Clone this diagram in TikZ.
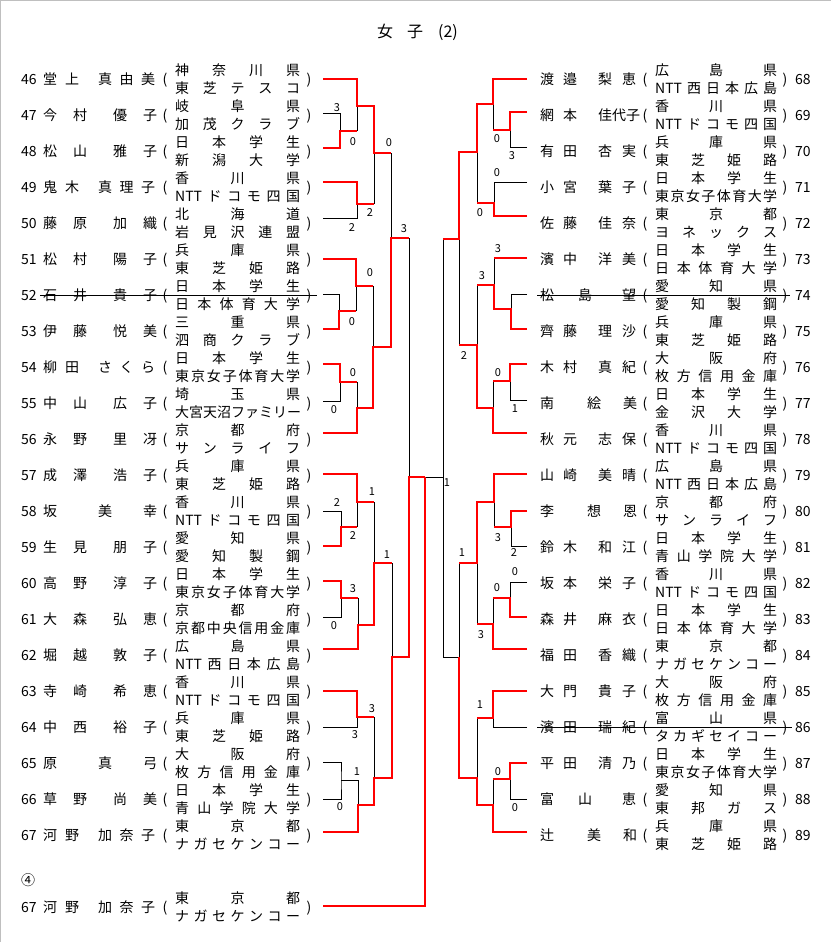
\documentclass[tikz,border=0pt]{standalone}
\usepackage{fontspec}
\setmainfont{Noto Sans CJK JP}
\usepackage{tikz}
\definecolor{myred}{HTML}{FF0000}
\tikzset{
  txt/.style={inner sep=0pt, font=\fontsize{14}{16}\selectfont, text height=12.3pt, text depth=1.7pt},
  sc/.style={inner sep=0pt, font=\fontsize{11}{12}\selectfont},
  won/.style={draw=myred, line width=2pt},
  lost/.style={draw=black, line width=0.9pt},
  frm/.style={draw=black!25, line width=1pt}
}
% spread the characters of a word over its box
\def\spreadit#1{\expandafter\spreadA#1\relax}
\def\spreadA#1{#1\spreadB}
\def\spreadB#1{\ifx\relax#1\else\hfill#1\expandafter\spreadB\fi}
% names, left column
\newcommand\nmA[2]{\makebox[44pt][l]{\spreadit{#1}}\hspace{26pt}\makebox[44pt][l]{\spreadit{#2}}}
\newcommand\nmB[2]{\makebox[36pt][l]{\spreadit{#1}}\hspace{19pt}\makebox[57pt][l]{\spreadit{#2}}}
\newcommand\nmC[2]{\makebox[14pt][l]{#1}\hspace{41pt}\makebox[59pt][l]{\spreadit{#2}}}
% names, right column
\newcommand\nmRA[2]{\makebox[37pt][l]{\spreadit{#1}}\hspace{21pt}\makebox[38pt][l]{\spreadit{#2}}}
\newcommand\nmRB[2]{\makebox[37pt][l]{\spreadit{#1}}\hspace{21pt}\makebox[42pt][l]{\spreadit{#2}}}
\newcommand\nmRC[2]{\makebox[14pt][l]{#1}\hspace{33pt}\makebox[50pt][l]{\spreadit{#2}}}
\newcommand\nmRE[2]{\makebox[52pt][l]{\spreadit{#1}}\hspace{30pt}\makebox[14pt][l]{#2}}

\begin{document}
\begin{tikzpicture}[x=1pt,y=-1pt]
\useasboundingbox (0,0) rectangle (831,942);
\draw[frm] (0.5,942) -- (0.5,0.5) -- (831,0.5);

\node[inner sep=0pt, font=\fontsize{16}{18}\selectfont, anchor=west] (ttl) at (377,32) {女\hspace{14pt}子\hspace{15pt}(2)};

% left column
\foreach \nr/\ly/\nm/\af/\ag [count=\row from 0] in {
 46/79/{\nmB{堂上}{真由美}}/{神奈川県}/{東芝テスコ},
 47/113/{\nmA{今村}{優子}}/{岐阜県}/{加茂クラブ},
 48/148/{\nmA{松山}{雅子}}/{日本学生}/{新潟大学},
 49/182/{\nmB{鬼木}{真理子}}/{香川県}/{{NTT}ドコモ四国},
 50/218/{\nmA{藤原}{加織}}/{北海道}/{岩見沢連盟},
 51/259/{\nmA{松村}{陽子}}/{兵庫県}/{東芝姫路},
 52/294/{\nmA{石井}{貴子}}/{日本学生}/{日本体育大学},
 53/329/{\nmA{伊藤}{悦美}}/{三重県}/{泗商クラブ},
 54/364/{\nmB{柳田}{さくら}}/{日本学生}/{東京女子体育大学},
 55/401/{\nmA{中山}{広子}}/{埼玉県}/{大宮天沼ファミリー},
 56/433/{\nmA{永野}{里冴}}/{京都府}/{サンライフ},
 57/474/{\nmA{成澤}{浩子}}/{兵庫県}/{東芝姫路},
 58/511/{\nmC{坂}{美幸}}/{香川県}/{{NTT}ドコモ四国},
 59/546/{\nmA{生見}{朋子}}/{愛知県}/{愛知製鋼},
 60/581/{\nmA{高野}{淳子}}/{日本学生}/{東京女子体育大学},
 61/617/{\nmA{大森}{弘恵}}/{京都府}/{京都中央信用金庫},
 62/649/{\nmA{堀越}{敦子}}/{広島県}/{{NTT}西日本広島},
 63/691/{\nmA{寺崎}{希恵}}/{香川県}/{{NTT}ドコモ四国},
 64/727/{\nmA{中西}{裕子}}/{兵庫県}/{東芝姫路},
 65/762/{\nmC{原}{真弓}}/{大阪府}/{枚方信用金庫},
 66/799/{\nmA{草野}{尚美}}/{日本学生}/{青山学院大学},
 67/832/{\nmB{河野}{加奈子}}/{東京都}/{ナガセケンコー}}{
  \pgfmathsetmacro\yy{79+36*\row}
  \node[txt,anchor=west] (n\nr) at (21,\yy) {\nr};
  \node[txt,anchor=west] (m\nr) at (43,\yy) {\nm};
  \node[txt] (p\nr) at (165,\yy) {(};
  \node[txt,anchor=west] (a\nr) at (175,\yy-9) {\makebox[125pt][l]{\spreadit{\af}}};
  \node[txt,anchor=west] (b\nr) at (175,\yy+9) {\makebox[125pt][l]{\spreadit{\ag}}};
  \node[txt] (q\nr) at (309,\yy) {)};
  \coordinate (L\nr) at (323,\ly);
}
\node[txt,anchor=west] (four) at (21,880) {④};
\node[txt,anchor=west] (n67b) at (21,907) {67};
\node[txt,anchor=west] (m67b) at (43,907) {\nmB{河野}{加奈子}};
\node[txt] (p67b) at (165,907) {(};
\node[txt,anchor=west] (a67b) at (175,898) {\makebox[125pt][l]{\spreadit{東京都}}};
\node[txt,anchor=west] (b67b) at (175,916) {\makebox[125pt][l]{\spreadit{ナガセケンコー}}};
\node[txt] (q67b) at (309,907) {)};
\coordinate (L67b) at (323,906);

% right column
\foreach \nr/\ly/\nm/\af/\ag [count=\row from 0] in {
 68/79/{\nmRA{渡邉}{梨恵}}/{広島県}/{{NTT}西日本広島},
 69/112/{\nmRB{網本}{佳代子}}/{香川県}/{{NTT}ドコモ四国},
 70/147/{\nmRA{有田}{杏実}}/{兵庫県}/{東芝姫路},
 71/182/{\nmRA{小宮}{葉子}}/{日本学生}/{東京女子体育大学},
 72/216/{\nmRA{佐藤}{佳奈}}/{東京都}/{ヨネックス},
 73/258/{\nmRA{濱中}{洋美}}/{日本学生}/{日本体育大学},
 74/294/{\nmRE{松島}{望}}/{愛知県}/{愛知製鋼},
 75/329/{\nmRA{齊藤}{理沙}}/{兵庫県}/{東芝姫路},
 76/364/{\nmRA{木村}{真紀}}/{大阪府}/{枚方信用金庫},
 77/400/{\nmRC{南}{絵美}}/{日本学生}/{金沢大学},
 78/433/{\nmRA{秋元}{志保}}/{香川県}/{{NTT}ドコモ四国},
 79/474/{\nmRA{山崎}{美晴}}/{広島県}/{{NTT}西日本広島},
 80/511/{\nmRC{李}{想恩}}/{京都府}/{サンライフ},
 81/546/{\nmRA{鈴木}{和江}}/{日本学生}/{青山学院大学},
 82/582/{\nmRA{坂本}{栄子}}/{香川県}/{{NTT}ドコモ四国},
 83/617/{\nmRA{森井}{麻衣}}/{日本学生}/{日本体育大学},
 84/649/{\nmRA{福田}{香織}}/{東京都}/{ナガセケンコー},
 85/691/{\nmRA{大門}{貴子}}/{大阪府}/{枚方信用金庫},
 86/727/{\nmRA{濱田}{瑞紀}}/{富山県}/{タカギセイコー},
 87/763/{\nmRA{平田}{清乃}}/{日本学生}/{東京女子体育大学},
 88/799/{\nmRE{富山}{恵}}/{愛知県}/{東邦ガス},
 89/832/{\nmRC{辻}{美和}}/{兵庫県}/{東芝姫路}}{
  \pgfmathsetmacro\yy{79+36*\row}
  \node[txt,anchor=west] (m\nr) at (540,\yy) {\nm};
  \node[txt] (p\nr) at (645,\yy) {(};
  \node[txt,anchor=west] (a\nr) at (655,\yy-9) {\makebox[122pt][l]{\spreadit{\af}}};
  \node[txt,anchor=west] (b\nr) at (655,\yy+9) {\makebox[122pt][l]{\spreadit{\ag}}};
  \node[txt] (q\nr) at (785,\yy) {)};
  \node[txt,anchor=west] (n\nr) at (795,\yy) {\nr};
  \coordinate (R\nr) at (527,\ly);
}

% struck entries
\draw[lost] ([xshift=-3pt]m52.west) -- ([xshift=5pt]q52.east);
\draw[lost] ([xshift=-3pt]m74.west) -- ([xshift=-5pt]n74.west);
\draw[lost] ([xshift=-3pt]m86.west) -- ([xshift=-3pt]n86.west);

% left bracket
\draw[lost] (L47) -| (340,131);
\draw[lost] (357,131) -- (357,106);
\draw[lost] (L50) -| (357,204);
\draw[lost] (374,204) -- (374,153);
\draw[lost] (391,153) -- (391,238);
\draw[lost] (L52) -| (339,311);
\draw[lost] (356,311) -- (356,286);
\draw[lost] (373,286) -- (373,347);
\draw[lost] (L55) -| (340,382);
\draw[lost] (357,382) -- (357,408);
\draw[lost] (L58) -| (341,527);
\draw[lost] (357,527) -- (357,502);
\draw[lost] (374,502) -- (374,563);
\draw[lost] (L61) -| (341,598);
\draw[lost] (358,598) -- (358,625);
\draw[lost] (392,563) -- (392,657);
\draw[lost] (L64) -| (357,717);
\draw[lost] (374,717) -- (374,778);
\draw[lost] (L65) -| (341,780) |- (L66);
\draw[lost] (341,780) -| (358,805);
\draw[lost] (409,238) -- (409,477);
\draw[lost] (425,477) -- (443,477);

\draw[won] (L46) -| (357,106) -| (374,153) -- (391,153);
\draw[won] (L48) -| (340,131) -- (357,131);
\draw[won] (L49) -| (357,204) -- (374,204);
\draw[won] (L51) -| (356,286) -- (373,286);
\draw[won] (L53) -| (339,311) -- (356,311);
\draw[won] (L54) -| (340,382) -- (357,382);
\draw[won] (L56) -| (357,408) -| (373,347) -| (391,238) -- (409,238);
\draw[won] (L57) -| (357,502) -- (374,502);
\draw[won] (L59) -| (341,527) -- (357,527);
\draw[won] (L60) -| (341,598) -- (358,598);
\draw[won] (L62) -| (358,625) -| (374,563) -- (392,563);
\draw[won] (L63) -| (357,717) -- (374,717);
\draw[won] (L67) -| (358,805) -| (374,778) -| (392,657) -| (409,477) -- (425,477);
\draw[won] (L67b) -| (425,477);

% right bracket
\draw[lost] (R70) -| (510,130);
\draw[lost] (493,104) -- (493,130);
\draw[lost] (R71) -| (494,203);
\draw[lost] (477,152) -- (477,203);
\draw[lost] (494,258) -- (494,285);
\draw[lost] (R74) -| (511,309);
\draw[lost] (477,285) -- (477,345);
\draw[lost] (459,239) -- (459,345);
\draw[lost] (R77) -| (510,381);
\draw[lost] (493,381) -- (493,408);
\draw[lost] (443,239) |- (459,657);
\draw[lost] (R81) -| (511,527);
\draw[lost] (494,502) -- (494,527);
\draw[lost] (R82) -| (510,598);
\draw[lost] (493,598) -- (493,624);
\draw[lost] (477,563) -- (477,624);
\draw[lost] (459,563) -- (459,657);
\draw[lost] (R86) -| (493,718);
\draw[lost] (477,718) -- (477,778);
\draw[lost] (R88) -| (510,779);
\draw[lost] (493,779) -- (493,805);

\draw[won] (R68) -| (493,104) -| (477,152) -| (459,239) -- (443,239);
\draw[won] (R69) -| (510,130) -- (493,130);
\draw[won] (R72) -| (494,203) -- (477,203);
\draw[won] (R73) -- (494,258);
\draw[won] (R75) -| (511,309) -| (494,285) -- (477,285);
\draw[won] (R76) -| (510,381) -- (493,381);
\draw[won] (R78) -| (493,408) -| (477,345) -- (459,345);
\draw[won] (R79) -| (494,502) -| (477,563) -- (459,563);
\draw[won] (R80) -| (511,527) -- (494,527);
\draw[won] (R83) -| (510,598) -- (493,598);
\draw[won] (R84) -| (493,624) -- (477,624);
\draw[won] (R85) -| (493,718) -- (477,718);
\draw[won] (R87) -| (510,779) -- (493,779);
\draw[won] (R89) -| (493,805) -| (477,778) -| (459,657);

% scores
\foreach \x/\y/\t [count=\j] in {337/108/3, 353/142/0, 389/143/0, 370/213/2, 352/228/2, 404/229/3,
  370/273/0, 352/322/0, 353/373/0, 334/410/0, 372/492/1, 337/503/2, 353/536/2, 387/555/1,
  353/589/3, 334/626/0, 372/709/3, 355/735/3, 357/772/1, 340/807/0, 447/483/1,
  497/139/0, 512/156/3, 497/173/0, 480/213/0, 498/249/3, 482/276/3, 464/356/2, 498/373/0,
  515/409/1, 498/538/3, 462/553/1, 514/553/2, 515/572/0, 497/588/0, 481/635/3, 480/705/1,
  498/772/0, 515/808/0}
  \node[sc] (s\j) at (\x,\y) {\t};
\end{tikzpicture}
\end{document}
